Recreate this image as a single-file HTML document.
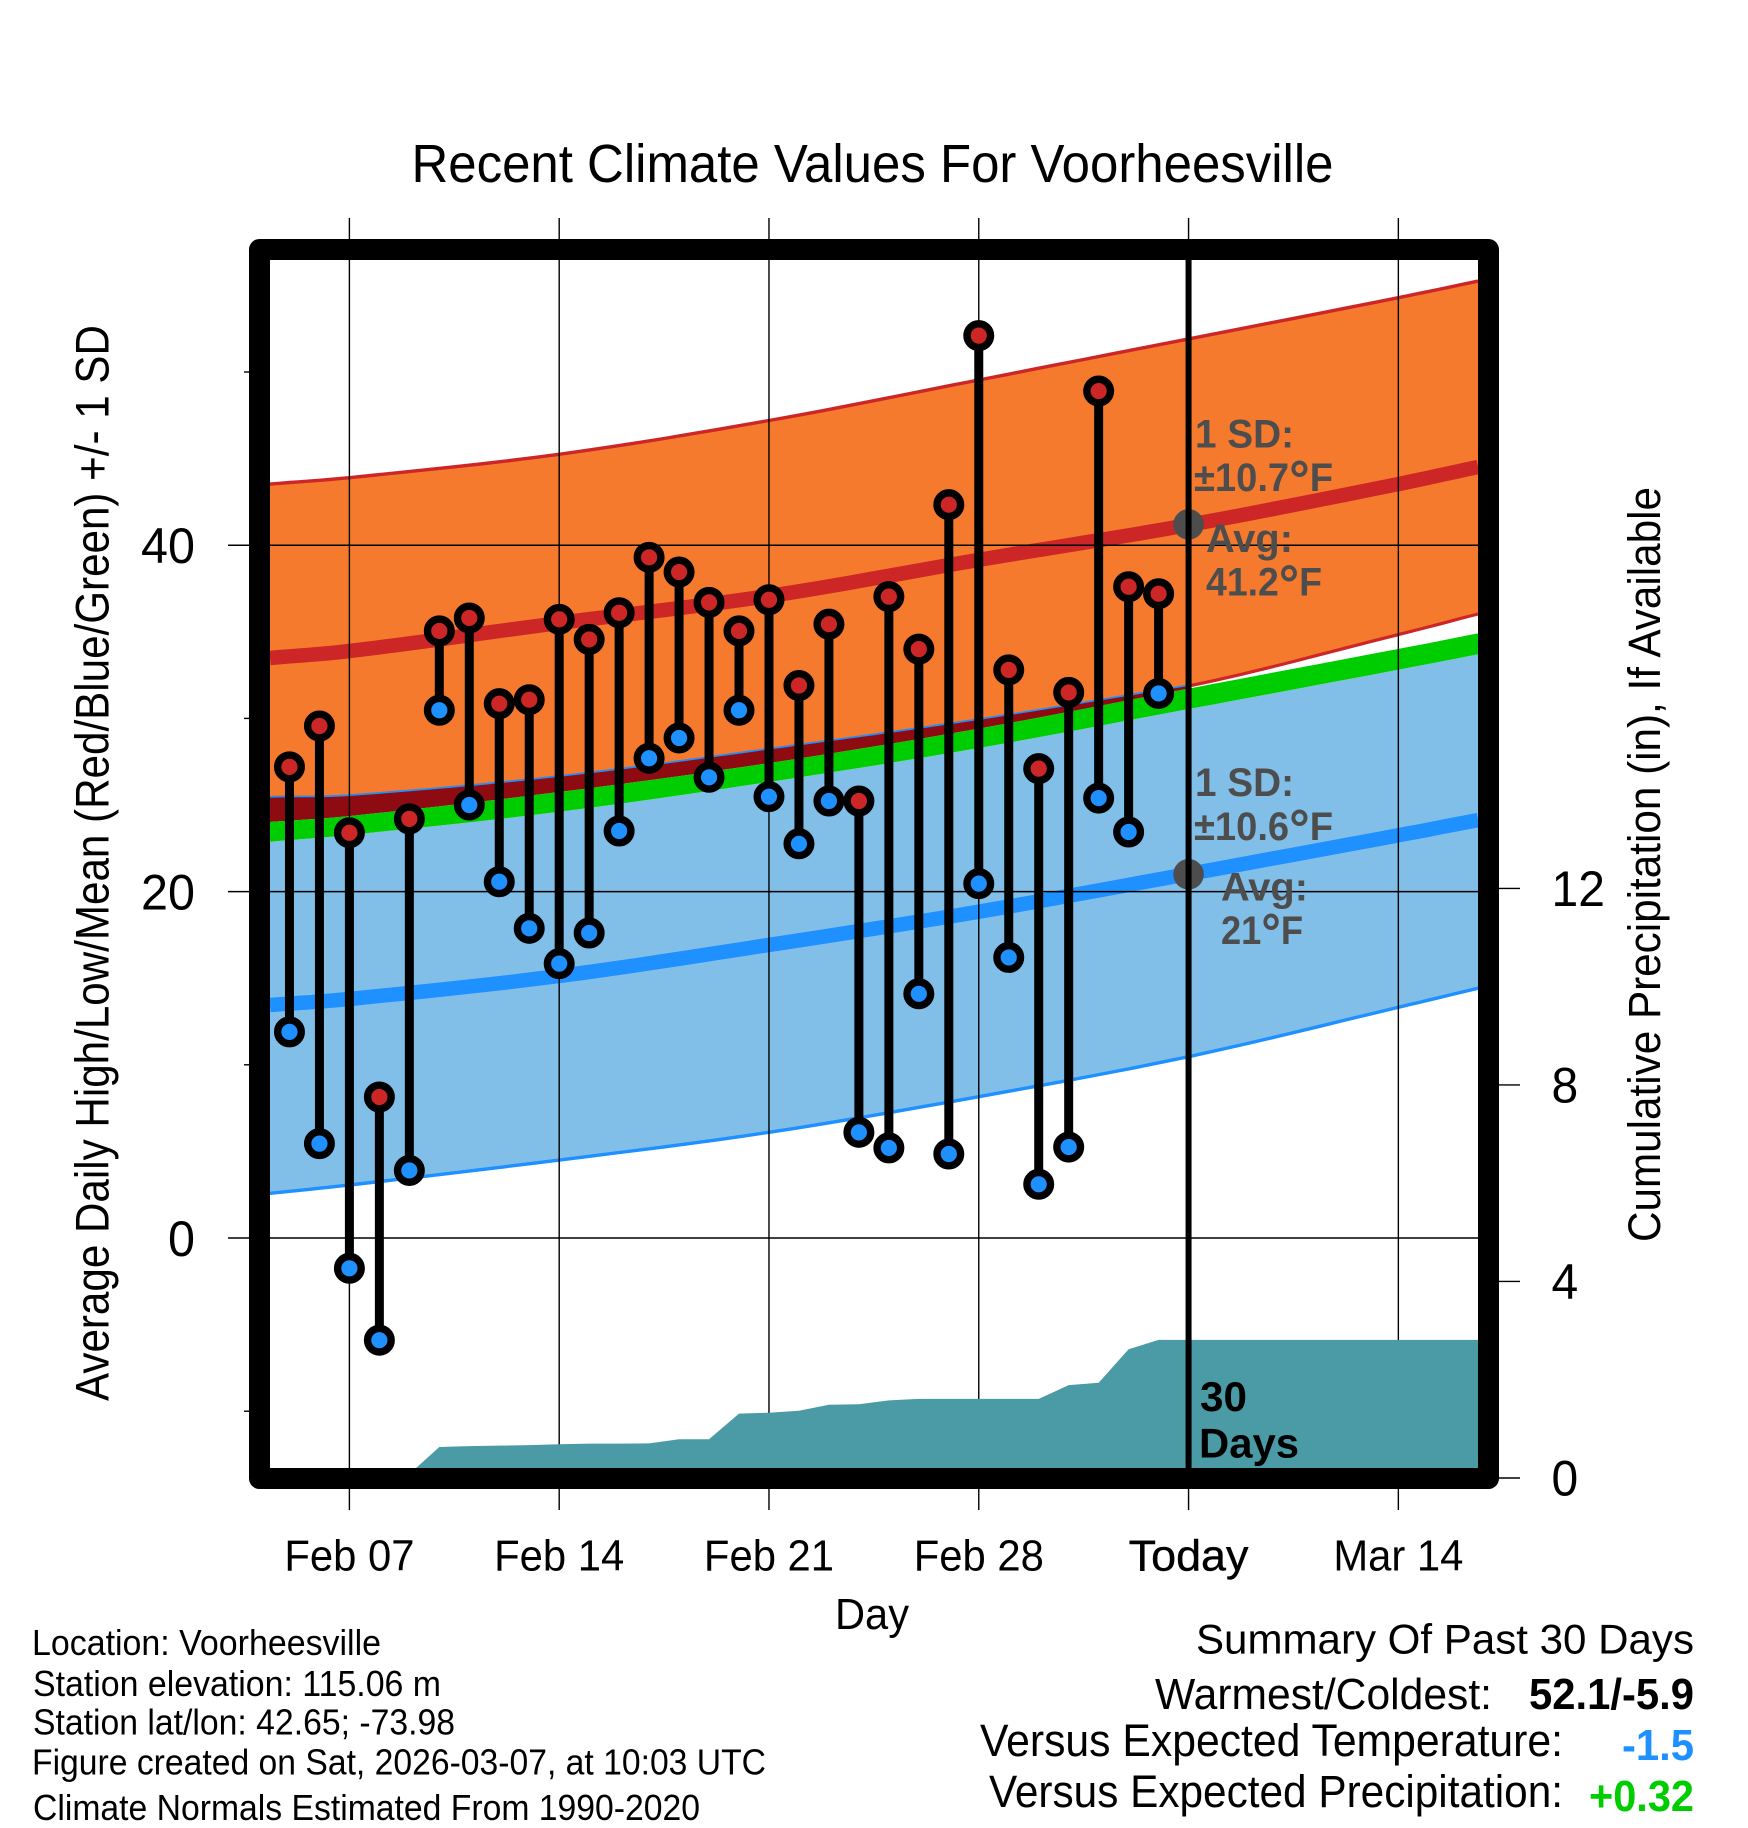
<!DOCTYPE html>
<html lang="en">
<head>
<meta charset="utf-8">
<title>Recent Climate Values For Voorheesville</title>
<style>
html,body{margin:0;padding:0;background:#fff;}
svg{display:block;}
text{font-family:"Liberation Sans",sans-serif;fill:#000;}
.b{font-weight:bold;}
.anno{font-weight:bold;fill:#4d4d4d;font-size:40px;}
</style>
</head>
<body>
<svg id="chart" xmlns="http://www.w3.org/2000/svg" width="1748" height="1828" viewBox="0 0 1748 1828">
  <rect x="0" y="0" width="1748" height="1828" fill="#fff"/>
  <g id="bands"></g>
  <g id="grid"></g>
  <g id="precip"></g>
  <g id="bars"></g>
  <g id="avg"></g>
  <g id="today"></g>
  <g id="ticks"></g>
  <rect x="259.5" y="249.5" width="1229" height="1229" fill="none" stroke="#000" stroke-width="21" stroke-linejoin="round"/>

  <text x="411.5" y="182" font-size="54" textLength="922" lengthAdjust="spacingAndGlyphs">Recent Climate Values For Voorheesville</text>
  <text transform="translate(108.5 1401) rotate(-90)" font-size="47" textLength="1076" lengthAdjust="spacingAndGlyphs">Average Daily High/Low/Mean (Red/Blue/Green) +/- 1 SD</text>
  <text transform="translate(1660 1242) rotate(-90)" font-size="45" textLength="755" lengthAdjust="spacingAndGlyphs">Cumulative Precipitation (in), If Available</text>
  <text x="835" y="1629" font-size="44" textLength="74" lengthAdjust="spacingAndGlyphs">Day</text>

  <g>
    <text class="anno" x="1195" y="447.5" textLength="99" lengthAdjust="spacingAndGlyphs">1 SD:</text>
    <text class="anno" x="1194" y="491" textLength="139" lengthAdjust="spacingAndGlyphs">±10.7<tspan font-size="54" dy="7">°</tspan><tspan dy="-7">F</tspan></text>
    <text class="anno" x="1206" y="552" textLength="87" lengthAdjust="spacingAndGlyphs">Avg:</text>
    <text class="anno" x="1206" y="595.5" textLength="116" lengthAdjust="spacingAndGlyphs">41.2<tspan font-size="54" dy="7">°</tspan><tspan dy="-7">F</tspan></text>
  </g>
  <g>
    <text class="anno" x="1195" y="796" textLength="99" lengthAdjust="spacingAndGlyphs">1 SD:</text>
    <text class="anno" x="1194" y="840" textLength="139" lengthAdjust="spacingAndGlyphs">±10.6<tspan font-size="54" dy="7">°</tspan><tspan dy="-7">F</tspan></text>
    <text class="anno" x="1221" y="900.5" textLength="87" lengthAdjust="spacingAndGlyphs">Avg:</text>
    <text class="anno" x="1221" y="944" textLength="82" lengthAdjust="spacingAndGlyphs">21<tspan font-size="54" dy="7">°</tspan><tspan dy="-7">F</tspan></text>
  </g>
  <text class="b" x="1200" y="1411" font-size="42" textLength="47" lengthAdjust="spacingAndGlyphs">30</text>
  <text class="b" x="1199" y="1457.5" font-size="42" textLength="100" lengthAdjust="spacingAndGlyphs">Days</text>

  <g>
    <text x="32" y="1655" font-size="36" textLength="349" lengthAdjust="spacingAndGlyphs">Location: Voorheesville</text>
    <text x="33" y="1696" font-size="36" textLength="408" lengthAdjust="spacingAndGlyphs">Station elevation: 115.06 m</text>
    <text x="33" y="1734.5" font-size="36" textLength="422" lengthAdjust="spacingAndGlyphs">Station lat/lon: 42.65; -73.98</text>
    <text x="32" y="1774.5" font-size="36" textLength="734" lengthAdjust="spacingAndGlyphs">Figure created on Sat, 2026-03-07, at 10:03 UTC</text>
    <text x="33" y="1820" font-size="36" textLength="667" lengthAdjust="spacingAndGlyphs">Climate Normals Estimated From 1990-2020</text>
  </g>

  <g>
    <text x="1196" y="1653.5" font-size="42" textLength="498" lengthAdjust="spacingAndGlyphs">Summary Of Past 30 Days</text>
    <text x="1155" y="1709" font-size="44" textLength="337" lengthAdjust="spacingAndGlyphs">Warmest/Coldest:</text>
    <text class="b" x="1529" y="1709" font-size="44" textLength="165" lengthAdjust="spacingAndGlyphs">52.1/-5.9</text>
    <text x="980" y="1756" font-size="45" textLength="583" lengthAdjust="spacingAndGlyphs">Versus Expected Temperature:</text>
    <text class="b" x="1622" y="1760" font-size="44" textLength="72" lengthAdjust="spacingAndGlyphs" style="fill:#1e90ff">-1.5</text>
    <text x="989" y="1807" font-size="45" textLength="574" lengthAdjust="spacingAndGlyphs">Versus Expected Precipitation:</text>
    <text class="b" x="1589" y="1811" font-size="44" textLength="105" lengthAdjust="spacingAndGlyphs" style="fill:#00cd00">+0.32</text>
  </g>
</svg>
<script>
// Days are counted from Feb 0 (Feb 07 = 7, Mar 07 / Today = 35).
const tickDays = [7, 14, 21, 28, 35, 42];
const tickDayLabels = ["Feb 07", "Feb 14", "Feb 21", "Feb 28", "Today", "Mar 14"];
const tempMajorTicks = [40, 20, 0];
const tempMinorTicks = [50, 30, 10, -10];
const precipTicks = [0, 4, 8, 12];

const obsDays = [5,6,7,8,9,10,11,12,13,14,15,16,17,18,19,20,21,22,23,24,25,26,27,28,29,30,31,32,33,34];
const dailyHigh = [27.2,29.56,23.4,8.14,24.2,35.05,35.8,30.85,31.08,35.72,34.56,36.1,39.3,38.45,36.7,35.05,36.85,31.9,35.44,25.23,37.03,34.0,42.34,52.1,32.8,27.1,31.5,48.9,37.6,37.2];
const dailyLow = [11.9,5.45,-1.75,-5.9,3.9,30.47,25.0,20.57,17.88,15.84,17.61,23.5,27.7,28.87,26.6,30.47,25.48,22.76,25.23,6.1,5.2,14.1,4.85,20.46,16.2,3.1,5.25,25.4,23.44,31.44];

const precipDays = [5,6,7,8,9,10,11,12,13,14,15,16,17,18,19,20,21,22,23,24,25,26,27,28,29,30,31,32,33,34,44.66];
const precipTotals = [0,0,0,0,0.08,0.63,0.65,0.66,0.67,0.685,0.70,0.70,0.705,0.79,0.79,1.31,1.33,1.37,1.49,1.50,1.58,1.61,1.61,1.61,1.61,1.61,1.89,1.94,2.62,2.81,2.81];

const bandDays = [4.35, 7, 14, 21, 28, 35, 42, 44.66];
const highUpper = [43.53,43.90,45.25,47.20,49.54,51.91,54.29,55.25];
const highMean = [33.49,33.89,35.51,37.07,39.15,41.17,43.53,44.52];
const highLower = [25.43,25.52,26.62,28.20,29.91,31.87,34.84,36.03];
const greenUpper = [24.02,24.36,25.75,27.42,29.41,31.72,34.01,34.91];
const lowUpper = [22.88,23.27,24.61,26.33,28.29,30.54,32.81,33.70];
const lowMean = [13.45,13.80,15.13,16.92,18.84,21.02,23.25,24.13];
const lowLower = [2.58,3.06,4.50,6.10,8.16,10.47,13.32,14.42];

const todayDay = 35;
const todayHighAvg = 41.2;
const todayLowAvg = 21;

const NS = "http://www.w3.org/2000/svg";
const plotTop = 260, plotBottom = 1468, plotRight = 1478;
function xDay(d){ return 349.4 + (d - 7) * 29.97; }
function yTemp(v){ return 1238 - v * 17.32; }
function yPrecip(p){ return 1478 - p * 49.13; }
function mk(tag, attrs, parent){
  const e = document.createElementNS(NS, tag);
  for (const k in attrs) e.setAttribute(k, attrs[k]);
  parent.appendChild(e);
  return e;
}
function pts(days, vals, yf){
  return days.map(function(d, i){ return xDay(d).toFixed(1) + "," + yf(vals[i]).toFixed(1); });
}
// Hermite smoothing through the read values, for drawing the climate curves.
function curve(days, vals){
  const n = days.length, slope = [], out = [];
  for (let i = 0; i < n; i++) {
    const a = Math.max(i - 1, 0), b = Math.min(i + 1, n - 1);
    slope.push((vals[b] - vals[a]) / (days[b] - days[a]));
  }
  for (let i = 0; i < n - 1; i++) {
    const h = days[i + 1] - days[i];
    const steps = 8;
    for (let s = 0; s < steps; s++) {
      const t = s / steps, t2 = t * t, t3 = t2 * t;
      const v = (2*t3 - 3*t2 + 1) * vals[i] + (t3 - 2*t2 + t) * h * slope[i] + (-2*t3 + 3*t2) * vals[i + 1] + (t3 - t2) * h * slope[i + 1];
      out.push(xDay(days[i] + t * h).toFixed(1) + "," + yTemp(v).toFixed(1));
    }
  }
  out.push(xDay(days[n - 1]).toFixed(1) + "," + yTemp(vals[n - 1]).toFixed(1));
  return out;
}
function bandPts(days, top, bottom){
  return curve(days, top).concat(curve(days, bottom).reverse()).join(" ");
}
const byId = function(id){ return document.getElementById(id); };

/* ---------- bands ---------- */
const bands = byId("bands");
const C_ORANGE = "#f67a2d", C_RED = "#cd2626", C_BLUE = "#1e90ff", C_LIGHT = "#82bfe8", C_GREEN = "#00cd00", C_DARK = "#8f0b12";

let el = mk("polygon", {points: bandPts(bandDays, highUpper, highLower), fill: C_ORANGE}, bands);



el = mk("polyline", {points: curve(bandDays, highLower).join(" "), fill: "none", stroke: C_RED, "stroke-width": 3.2}, bands);



el = mk("polyline", {points: curve(bandDays, highUpper).join(" "), fill: "none", stroke: C_RED, "stroke-width": 3.4}, bands);



const overlapCount = bandDays.filter(function(d){ return d <= todayDay; }).length;
const overlapDays = bandDays.slice(0, overlapCount);
const overlapTop = highLower.slice(0, overlapCount);
const overlapBottom = greenUpper.slice(0, overlapCount);

el = mk("polyline", {points: curve(overlapDays, overlapTop).join(" "), fill: "none", stroke: C_BLUE, "stroke-width": 3.4}, bands);



el = mk("polygon", {points: bandPts(overlapDays, overlapTop, overlapBottom), fill: C_DARK}, bands);



el = mk("polygon", {points: bandPts(bandDays, lowUpper, lowLower), fill: C_LIGHT}, bands);



el = mk("polygon", {points: bandPts(bandDays, greenUpper, lowUpper), fill: C_GREEN}, bands);



el = mk("polyline", {points: curve(bandDays, lowLower).join(" "), fill: "none", stroke: C_BLUE, "stroke-width": 3.4}, bands);



el = mk("polyline", {points: curve(bandDays, highMean).join(" "), fill: "none", stroke: C_RED, "stroke-width": 14.5}, bands);



el = mk("polyline", {points: curve(bandDays, lowMean).join(" "), fill: "none", stroke: C_BLUE, "stroke-width": 14.5}, bands);



/* ---------- gridlines ---------- */
const grid = byId("grid");
tickDays.forEach(function(d, i){
  const line = mk("line", {x1: xDay(d), x2: xDay(d), y1: 218, y2: 1510, stroke: "#000", "stroke-width": 1.4}, grid);
  
  
  const isToday = d === todayDay;
  const label = mk("text", {transform: "translate(" + xDay(d) + " 1570.5) scale(" + (isToday ? 1.02 : 0.95) + " 1)", "text-anchor": "middle", "font-size": 44}, grid);
  
  
  label.textContent = tickDayLabels[i];
  if (isToday) { label.setAttribute("stroke", "#000"); label.setAttribute("stroke-width", "0.4"); }
});
tempMajorTicks.forEach(function(v){
  const line = mk("line", {x1: 228, x2: plotRight, y1: yTemp(v), y2: yTemp(v), stroke: "#000", "stroke-width": 1.5}, grid);
  
  
  const label = mk("text", {transform: "translate(195 " + (yTemp(v) + 17.8) + ") scale(0.97 1)", "text-anchor": "end", "font-size": 50}, grid);
  
  
  label.textContent = String(v);
});

/* ---------- precipitation ---------- */
const precip = byId("precip");
const precipPoly = pts(precipDays, precipTotals, yPrecip);
precipPoly.push(xDay(precipDays[precipDays.length - 1]).toFixed(1) + "," + yPrecip(0));
precipPoly.push(xDay(precipDays[0]).toFixed(1) + "," + yPrecip(0));
el = mk("polygon", {points: precipPoly.join(" "), fill: "#4a9ba6"}, precip);



/* ---------- daily bars ---------- */
const bars = byId("bars");
obsDays.forEach(function(d, i){
  const bar = mk("line", {x1: xDay(d), x2: xDay(d), y1: yTemp(dailyHigh[i]), y2: yTemp(dailyLow[i]), stroke: "#000", "stroke-width": 9}, bars);
  
  
});
obsDays.forEach(function(d, i){
  const hi = mk("circle", {cx: xDay(d), cy: yTemp(dailyHigh[i]), r: 11.8, fill: C_RED, stroke: "#000", "stroke-width": 7.4}, bars);
  
  
  const lo = mk("circle", {cx: xDay(d), cy: yTemp(dailyLow[i]), r: 11.8, fill: C_BLUE, stroke: "#000", "stroke-width": 7.4}, bars);
  
  
});

/* ---------- today's averages and line ---------- */
const avg = byId("avg");
el = mk("circle", {cx: xDay(todayDay), cy: yTemp(todayHighAvg), r: 15.3, fill: "#4d4d4d"}, avg);


el = mk("circle", {cx: xDay(todayDay), cy: yTemp(todayLowAvg), r: 15.3, fill: "#4d4d4d"}, avg);



el = mk("line", {x1: xDay(todayDay), x2: xDay(todayDay), y1: plotTop, y2: plotBottom, stroke: "#000", "stroke-width": 6}, byId("today"));



/* ---------- ticks ---------- */
const ticks = byId("ticks");
tempMinorTicks.forEach(function(v){
  const t = mk("line", {x1: 244, x2: 250, y1: yTemp(v), y2: yTemp(v), stroke: "#000", "stroke-width": 1.4}, ticks);
  
  
});
precipTicks.forEach(function(p){
  const t = mk("line", {x1: 1498, x2: 1520, y1: yPrecip(p), y2: yPrecip(p), stroke: "#000", "stroke-width": 1.4}, ticks);
  
  
  const label = mk("text", {transform: "translate(1551.5 " + (yPrecip(p) + 17.7) + ") scale(0.96 1)", "font-size": 50}, ticks);
  
  
  label.textContent = String(p);
});
</script>
</body>
</html>
